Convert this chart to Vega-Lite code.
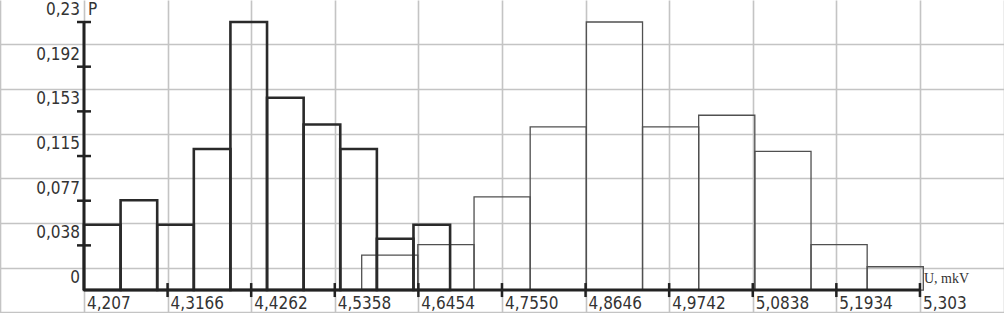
{
  "$schema": "https://vega.github.io/schema/vega-lite/v6.json",
  "width": 1004,
  "height": 313,
  "padding": 0,
  "autosize": {"type": "fit", "contains": "padding"},
  "background": "white",
  "config": {"view": {"stroke": null}},
  "datasets": {
    "thin": [
      {"x0": 4.5711, "x1": 4.6447, "p": 0.030},
      {"x0": 4.6447, "x1": 4.7184, "p": 0.039},
      {"x0": 4.7184, "x1": 4.7920, "p": 0.080},
      {"x0": 4.7920, "x1": 4.8656, "p": 0.140},
      {"x0": 4.8656, "x1": 4.9393, "p": 0.230},
      {"x0": 4.9393, "x1": 5.0129, "p": 0.140},
      {"x0": 5.0129, "x1": 5.0865, "p": 0.150},
      {"x0": 5.0865, "x1": 5.1602, "p": 0.119},
      {"x0": 5.1602, "x1": 5.2338, "p": 0.039},
      {"x0": 5.2338, "x1": 5.3074, "p": 0.020}
    ],
    "thick": [
      {"x0": 4.207, "x1": 4.255, "p": 0.056},
      {"x0": 4.255, "x1": 4.303, "p": 0.077},
      {"x0": 4.303, "x1": 4.351, "p": 0.056},
      {"x0": 4.351, "x1": 4.399, "p": 0.121},
      {"x0": 4.399, "x1": 4.447, "p": 0.230},
      {"x0": 4.447, "x1": 4.495, "p": 0.165},
      {"x0": 4.495, "x1": 4.543, "p": 0.142},
      {"x0": 4.543, "x1": 4.591, "p": 0.121},
      {"x0": 4.591, "x1": 4.639, "p": 0.044},
      {"x0": 4.639, "x1": 4.687, "p": 0.056}
    ],
    "ylab": [
      {"v": 0, "label": "0"},
      {"v": 0.03833, "label": "0,038"},
      {"v": 0.07667, "label": "0,077"},
      {"v": 0.115, "label": "0,115"},
      {"v": 0.15333, "label": "0,153"},
      {"v": 0.19167, "label": "0,192"},
      {"v": 0.23, "label": "0,23"}
    ],
    "xlab": [
      {"v": 4.207, "label": "4,207"},
      {"v": 4.3166, "label": "4,3166"},
      {"v": 4.4262, "label": "4,4262"},
      {"v": 4.5358, "label": "4,5358"},
      {"v": 4.6454, "label": "4,6454"},
      {"v": 4.755, "label": "4,7550"},
      {"v": 4.8646, "label": "4,8646"},
      {"v": 4.9742, "label": "4,9742"},
      {"v": 5.0838, "label": "5,0838"},
      {"v": 5.1934, "label": "5,1934"},
      {"v": 5.303, "label": "5,303"}
    ]
  },
  "layer": [
    {
      "data": {"name": "thin"},
      "mark": {"type": "rect", "fillOpacity": 0, "stroke": "#505050", "strokeWidth": 1.3},
      "encoding": {
        "x": {
          "field": "x0", "type": "quantitative",
          "scale": {"domain": [4.0969, 5.4132], "nice": false, "zero": false},
          "axis": {
            "values": [4.0974, 4.207, 4.3166, 4.4262, 4.5358, 4.6454, 4.755, 4.8646, 4.9742, 5.0838, 5.1934, 5.303, 5.4126],
            "grid": true, "gridColor": "#c4c4c4", "gridWidth": 1.6,
            "labels": false, "ticks": false, "domain": false, "title": null
          }
        },
        "x2": {"field": "x1"},
        "y": {
          "field": "p", "type": "quantitative",
          "scale": {"domain": [-0.0197, 0.2489], "nice": false, "zero": false},
          "axis": {
            "values": [-0.01917, 0, 0.01917, 0.03833, 0.0575, 0.07667, 0.09583, 0.115, 0.13417, 0.15333, 0.1725, 0.19167, 0.21083, 0.23, 0.24917],
            "grid": true, "gridColor": "#c4c4c4", "gridWidth": 1.6,
            "labels": false, "ticks": false, "domain": false, "title": null
          }
        },
        "y2": {"datum": 0}
      }
    },
    {
      "data": {"name": "thick"},
      "mark": {"type": "rect", "fillOpacity": 0, "stroke": "#2a2a2a", "strokeWidth": 2.6},
      "encoding": {
        "x": {"field": "x0", "type": "quantitative"},
        "x2": {"field": "x1"},
        "y": {"field": "p", "type": "quantitative"},
        "y2": {"datum": 0}
      }
    },
    {
      "data": {"values": [{}]},
      "mark": {"type": "rule", "stroke": "#222222", "strokeWidth": 3},
      "encoding": {
        "x": {"datum": 4.207, "type": "quantitative"},
        "y": {"datum": 0, "type": "quantitative"},
        "y2": {"datum": 0.23}
      }
    },
    {
      "data": {"values": [{}]},
      "mark": {"type": "rule", "stroke": "#222222", "strokeWidth": 3},
      "encoding": {
        "x": {"datum": 4.207, "type": "quantitative"},
        "x2": {"datum": 5.303},
        "y": {"datum": 0, "type": "quantitative"}
      }
    },
    {
      "data": {"name": "ylab"},
      "transform": [{"filter": "datum.v > 0"}],
      "mark": {"type": "tick", "orient": "horizontal", "color": "#222222", "size": 14, "thickness": 2.5, "opacity": 1},
      "encoding": {
        "x": {"datum": 4.207, "type": "quantitative"},
        "y": {"field": "v", "type": "quantitative"}
      }
    },
    {
      "data": {"name": "xlab"},
      "transform": [{"filter": "datum.v > 4.21"}],
      "mark": {"type": "tick", "orient": "vertical", "color": "#222222", "size": 14, "thickness": 2.5, "opacity": 1},
      "encoding": {
        "x": {"field": "v", "type": "quantitative"},
        "y": {"datum": 0, "type": "quantitative"}
      }
    },
    {
      "data": {"name": "ylab"},
      "mark": {"type": "text", "align": "right", "baseline": "bottom", "dx": -4, "dy": -3, "font": "Liberation Sans Narrow, DejaVu Sans Condensed, sans-serif", "fontSize": 17, "color": "#333333"},
      "encoding": {
        "x": {"datum": 4.207, "type": "quantitative"},
        "y": {"field": "v", "type": "quantitative"},
        "text": {"field": "label"}
      }
    },
    {
      "data": {"name": "xlab"},
      "mark": {"type": "text", "align": "left", "baseline": "middle", "dx": 3, "dy": 14, "font": "Liberation Sans Narrow, DejaVu Sans Condensed, sans-serif", "fontSize": 17, "color": "#333333"},
      "encoding": {
        "x": {"field": "v", "type": "quantitative"},
        "y": {"datum": 0, "type": "quantitative"},
        "text": {"field": "label"}
      }
    },
    {
      "data": {"values": [{"t": "P"}]},
      "mark": {"type": "text", "align": "left", "baseline": "bottom", "dx": 4, "dy": -3, "font": "Liberation Sans Narrow, DejaVu Sans Condensed, sans-serif", "fontSize": 17, "color": "#333333"},
      "encoding": {
        "x": {"datum": 4.207, "type": "quantitative"},
        "y": {"datum": 0.23, "type": "quantitative"},
        "text": {"field": "t"}
      }
    },
    {
      "data": {"values": [{"t": "U, mkV"}]},
      "mark": {"type": "text", "align": "left", "baseline": "bottom", "dx": 4, "dy": -4, "font": "Liberation Serif, serif", "fontSize": 14, "color": "#333333"},
      "encoding": {
        "x": {"datum": 5.303, "type": "quantitative"},
        "y": {"datum": 0, "type": "quantitative"},
        "text": {"field": "t"}
      }
    }
  ]
}
